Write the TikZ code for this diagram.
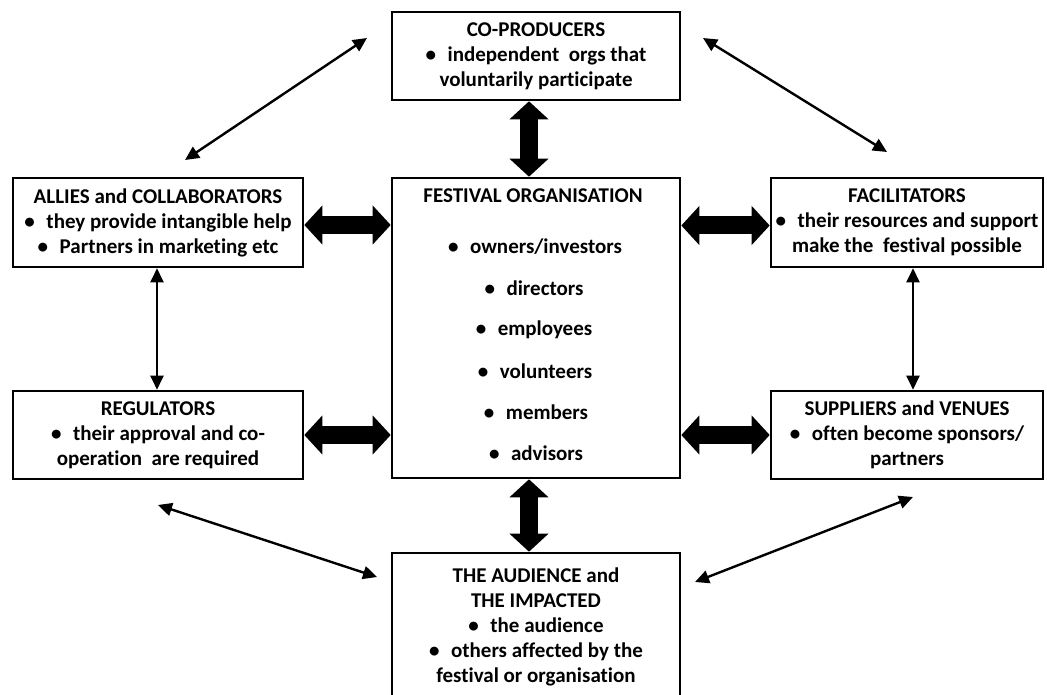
\documentclass[tikz,border=0pt]{standalone}
\usepackage{fontspec}
\setmainfont[Ligatures=NoCommon]{Carlito}
\usetikzlibrary{arrows.meta,calc}
\begin{document}
\begin{tikzpicture}[x=1pt,y=-1pt,
  box/.style={draw=black,line width=2.6pt,fill=white,align=center,inner sep=2pt,
    font=\fontsize{21}{25}\selectfont\bfseries},
  item/.style={inner sep=0pt,font=\fontsize{21}{25}\selectfont\bfseries},
  big/.style={line width=18pt,{Triangle[width=38pt,length=18pt]}-{Triangle[width=38pt,length=18pt]}},
  thin/.style={line width=2.4pt,{Triangle[width=13pt,length=14pt]}-{Triangle[width=13pt,length=14pt]}}]
\clip (0,0) rectangle (1047,695);
\fill[white] (0,0) rectangle (1047,695);
\newcommand{\bul}{\textbullet\hspace{0.55em}}
% boxes
\node[box,minimum width=288pt,minimum height=88pt] (coprod) at (536,56)
  {CO-PRODUCERS\\ \bul independent\ \ orgs that\\ voluntarily\ participate};
\node[box,minimum width=288pt,minimum height=300pt] (fest) at (536,328) {};
\node[box,minimum width=290pt,minimum height=89pt] (allies) at (158,222.5)
  {ALLIES and COLLABORATORS\\ \bul they provide intangible help\\ \bul Partners in marketing etc};
\node[box,minimum width=272pt,minimum height=89pt] (facil) at (907,222.5)
  {FACILITATORS\\ \bul their resources and support\\ make the\ \ festival possible};
\node[box,minimum width=290pt,minimum height=88pt] (reg) at (158,435)
  {REGULATORS\\ \bul their approval and co-\\ operation\ \ are required};
\node[box,minimum width=272pt,minimum height=88pt] (supp) at (907,435)
  {SUPPLIERS and VENUES\\ \bul often become sponsors/\\ partners};
\node[box,minimum width=288pt,minimum height=147pt] (aud) at (536,626.5)
  {THE AUDIENCE and\\ THE IMPACTED\\ \bul the audience\\ \bul others affected by the\\ festival or\ organisation};
% festival contents
\node[item] (ft) at (533,196) {FESTIVAL ORGANISATION};
\node[item] (f1) at (535,247) {\bul owners/investors};
\node[item] (f2) at (534,288) {\bul directors};
\node[item] (f3) at (534,330) {\bul employees};
\node[item] (f4) at (535,371) {\bul volunteers};
\node[item] (f5) at (536,412) {\bul members};
\node[item] (f6) at (536,453) {\bul advisors};
% thick arrows
\draw[big] ([xshift=-7pt]coprod.south) -- ([xshift=-7pt]fest.north);
\draw[big] ([xshift=-7pt]fest.south) -- ([xshift=-7pt]aud.north);
\draw[big] ([yshift=-2.5pt]allies.east) -- ([yshift=-2.5pt]allies.east -| fest.west);
\draw[big] (reg.east) -- (reg.east -| fest.west);
\draw[big] ([yshift=-3pt]facil.west -| fest.east) -- ([yshift=-3pt]facil.west);
\draw[big] (supp.west -| fest.east) -- (supp.west);
% thin arrows
\coordinate (ul1) at (185,160); \coordinate (ul2) at (367,38);
\coordinate (ur1) at (703,38);  \coordinate (ur2) at (887,152);
\coordinate (ll1) at (158,505); \coordinate (ll2) at (377,577);
\coordinate (lr1) at (695,582); \coordinate (lr2) at (913,497);
\draw[thin] (ul1) -- (ul2);
\draw[thin] (ur1) -- (ur2);
\draw[thin] (ll1) -- (ll2);
\draw[thin] (lr1) -- (lr2);
\draw[thin] ([xshift=-1pt]allies.south) -- ([xshift=-1pt]reg.north);
\draw[thin] ([xshift=6pt]facil.south) -- ([xshift=6pt]supp.north);
\end{tikzpicture}
\end{document}
